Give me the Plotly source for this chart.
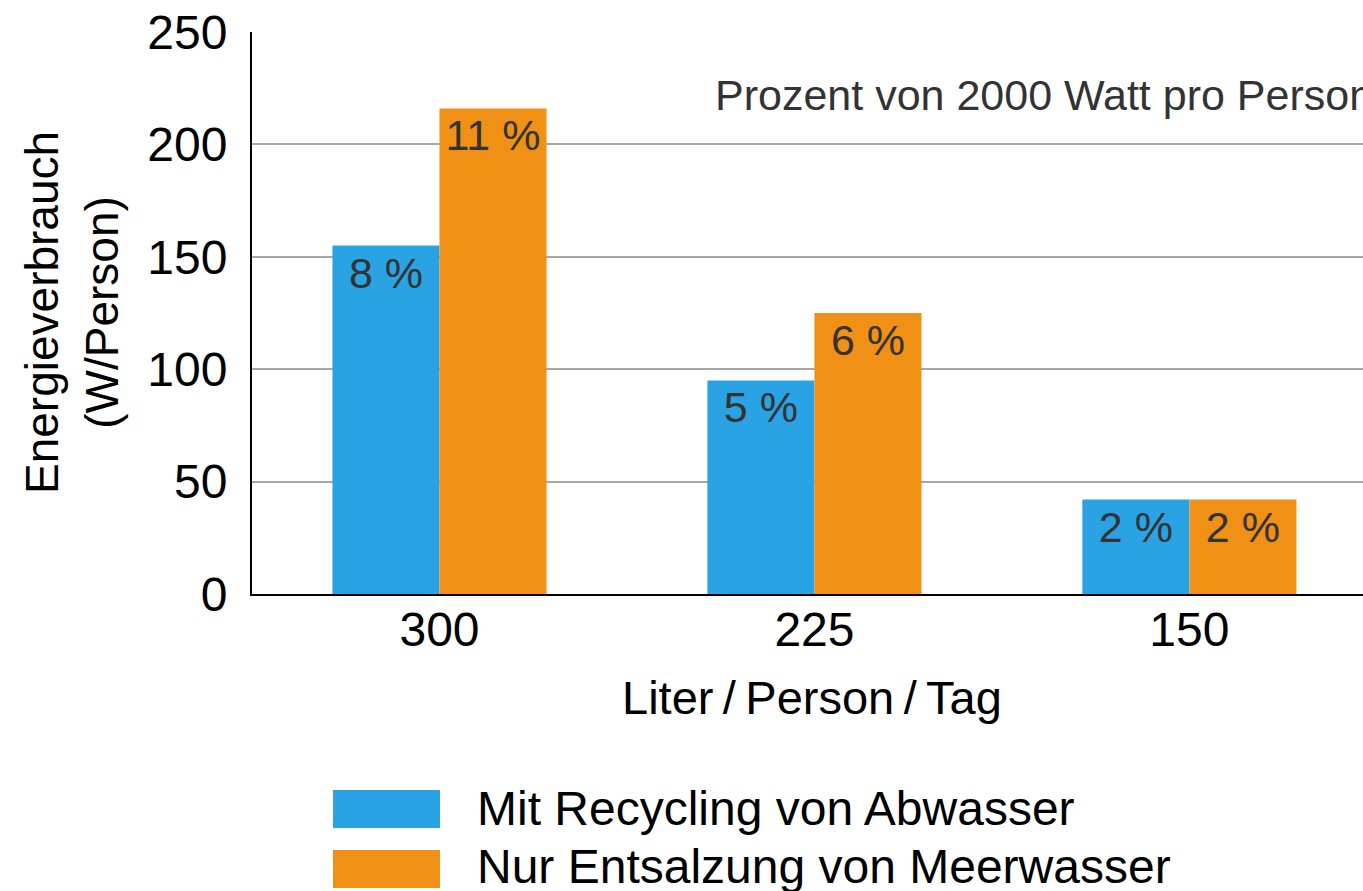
import plotly.graph_objects as go

categories = ["300", "225", "150"]
recycling = [155, 95, 42]
entsalzung = [216, 125, 42]
recycling_labels = ["8 %", "5 %", "2 %"]
entsalzung_labels = ["11 %", "6 %", "2 %"]
series_names = ["Mit Recycling von Abwasser", "Nur Entsalzung von Meerwasser"]
y_ticks = [0, 50, 100, 150, 200, 250]

BLUE = "#29A3E3"
ORANGE = "#F09014"
FONT = "Liberation Sans, Arial, sans-serif"

fig = go.Figure()
for vals, labels, color, name in [
    (recycling, recycling_labels, BLUE, series_names[0]),
    (entsalzung, entsalzung_labels, ORANGE, series_names[1]),
]:
    fig.add_trace(go.Bar(
        x=categories, y=vals, name=name, marker=dict(color=color, line=dict(width=0)),
        text=labels, textposition="inside", insidetextanchor="end",
        textangle=0, constraintext="none",
        textfont=dict(family=FONT, size=43, color="#333333"),
        showlegend=False, hoverinfo="skip",
    ))

W, H = 1363, 891
PL, PT, PB = 252, 32, 594          # plot area in window pixels
L, T, R = PL, PT, 0
B = H - PB
pw, ph = W - L - R, H - T - B

def px(x):
    return (x - PL) / pw

def py(y):
    return (PB - y) / ph

fig.update_layout(
    width=W, height=H,
    margin=dict(l=L, r=R, t=T, b=B, pad=0),
    paper_bgcolor="white", plot_bgcolor="white",
    barmode="group", bargap=0.429, bargroupgap=0,
    font=dict(family=FONT, color="black"),
    xaxis=dict(
        type="category", range=[-0.5, 2.463],
        showline=True, linecolor="black", linewidth=2,
        showgrid=False, ticks="", ticklabelstandoff=-8,
        tickfont=dict(size=48, color="black"), zeroline=False,
    ),
    yaxis=dict(
        range=[0, 250], tickvals=y_ticks,
        showline=True, linecolor="black", linewidth=2,
        showgrid=True, gridcolor="#A6A6A6", gridwidth=2,
        ticks="outside", ticklen=13, tickcolor="rgba(0,0,0,0)",
        ticklabeloverflow="allow",
        tickfont=dict(size=48, color="black"), zeroline=False,
    ),
)

annotations = [
    dict(text="Liter\u2009/\u2009Person\u2009/\u2009Tag", x=px(812), y=py(697),
         xanchor="center", yanchor="middle", font=dict(size=47, color="black")),
    dict(text="Energieverbrauch<br>(W/Person)", x=px(72), y=0.5, textangle=-90,
         xanchor="center", yanchor="middle", font=dict(size=46, color="black")),
    dict(text="Prozent von 2000 Watt pro Person", x=px(713), y=py(95),
         xanchor="left", yanchor="middle", font=dict(size=43, color="#333333")),
    dict(text=series_names[0], x=px(475), y=py(808),
         xanchor="left", yanchor="middle", font=dict(size=48, color="black")),
    dict(text=series_names[1], x=px(475), y=py(866),
         xanchor="left", yanchor="middle", font=dict(size=48, color="black")),
]
for a in annotations:
    a.update(xref="paper", yref="paper", showarrow=False)
fig.update_layout(annotations=annotations)

for color, y0, y1 in [(BLUE, 790, 828), (ORANGE, 850, 888)]:
    fig.add_shape(type="rect", xref="paper", yref="paper",
                  x0=px(333), x1=px(440), y0=py(y1), y1=py(y0),
                  fillcolor=color, line=dict(width=0))

fig.write_html(
    "out.html",
    config={"displayModeBar": False},
    post_script="document.body.style.margin='0';document.body.style.overflow='hidden';",
)
